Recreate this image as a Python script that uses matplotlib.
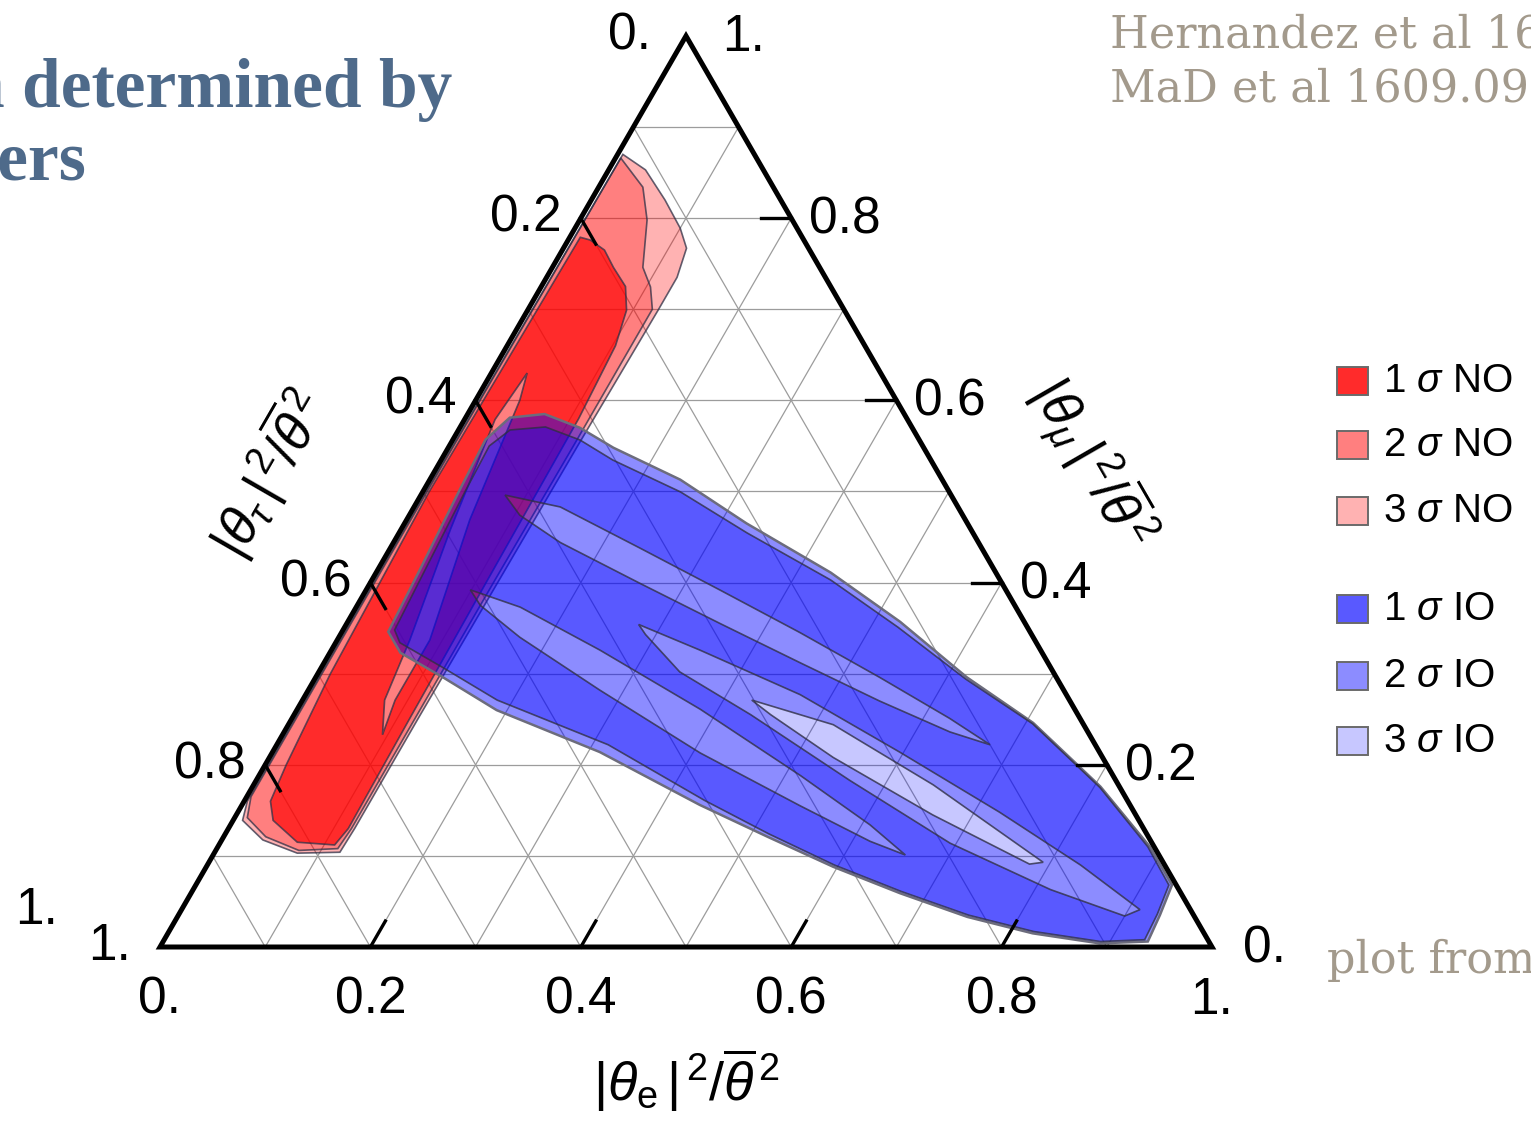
import numpy as np
import matplotlib

matplotlib.use("Agg")
import matplotlib.pyplot as plt
from matplotlib.path import Path
from matplotlib.patches import PathPatch, Polygon, Rectangle

plt.rcParams["font.family"] = ["Liberation Sans", "DejaVu Sans"]
plt.rcParams["mathtext.fontset"] = "custom"
plt.rcParams["mathtext.rm"] = "Liberation Sans"
plt.rcParams["mathtext.it"] = "Liberation Sans:italic"
plt.rcParams["mathtext.bf"] = "Liberation Sans:bold"

W, H = 1531, 1121
SIDE = 1052            # triangle side, px
CORNER = (160, 947)    # px position of the |θτ|² = 1 corner

# ticks / labels, identical on the three sides
tick_values = [0.2, 0.4, 0.6, 0.8]
label_values = [0.0, 0.2, 0.4, 0.6, 0.8, 1.0]
label_texts = ["0.", "0.2", "0.4", "0.6", "0.8", "1."]
grid_values = [0.1, 0.2, 0.3, 0.4, 0.5, 0.6, 0.7, 0.8, 0.9]

# contours, as (|θe|², |θμ|²) fractions of θ̄²  (|θτ|² = 1 - the two)
# normal ordering
no_3sigma = [(0.005, 0.870), (0.035, 0.853), (0.070, 0.820), (0.100, 0.789),
             (0.117, 0.767), (0.124, 0.735), (0.124, 0.700), (0.122, 0.550),
             (0.121, 0.400), (0.120, 0.250), (0.120, 0.130), (0.119, 0.104),
             (0.079, 0.103), (0.039, 0.1175), (0.009, 0.139), (0.003, 0.160),
             (0.003, 0.500)]
no_2sigma = [(0.005, 0.866), (0.042, 0.834), (0.064, 0.798), (0.086, 0.746),
             (0.104, 0.7245), (0.118, 0.700), (0.118, 0.550), (0.117, 0.400),
             (0.117, 0.250), (0.117, 0.130), (0.115, 0.108), (0.079, 0.106),
             (0.040, 0.121), (0.012, 0.142), (0.004, 0.165), (0.004, 0.500)]
no_1sigma = [(0.010, 0.779), (0.021, 0.776), (0.040, 0.765), (0.058, 0.746),
             (0.080, 0.725), (0.094, 0.699), (0.103, 0.660), (0.108, 0.580),
             (0.110, 0.400), (0.112, 0.250), (0.114, 0.130), (0.110, 0.112),
             (0.073, 0.115), (0.038, 0.139), (0.025, 0.160), (0.020, 0.200),
             (0.012, 0.300), (0.006, 0.500)]
no_1sigma_gap = [(0.034, 0.630), (0.042, 0.600), (0.060, 0.469), (0.088, 0.337),
                 (0.088, 0.271), (0.095, 0.233), (0.078, 0.271), (0.069, 0.337),
                 (0.047, 0.458), (0.029, 0.579)]

# inverted ordering
io_outer = [(0.044, 0.346), (0.040, 0.414), (0.034, 0.502), (0.031, 0.557),
            (0.042, 0.581), (0.073, 0.585), (0.114, 0.570), (0.157, 0.548),
            (0.238, 0.513), (0.325, 0.465), (0.432, 0.411), (0.525, 0.357),
            (0.619, 0.296), (0.707, 0.246), (0.806, 0.176), (0.886, 0.110),
            (0.928, 0.068), (0.933, 0.035), (0.936, 0.006), (0.891, 0.004),
            (0.822, 0.015), (0.751, 0.033), (0.674, 0.059), (0.596, 0.088),
            (0.517, 0.121), (0.435, 0.156), (0.311, 0.214), (0.190, 0.260),
            (0.121, 0.296), (0.067, 0.323)]
io_core = [(0.049, 0.348), (0.045, 0.414), (0.040, 0.500), (0.038, 0.550),
           (0.049, 0.5675), (0.081, 0.5708), (0.121, 0.5565), (0.163, 0.5346),
           (0.245, 0.4995), (0.331, 0.4544), (0.436, 0.4029), (0.526, 0.351),
           (0.619, 0.294), (0.707, 0.245), (0.806, 0.175), (0.884, 0.110),
           (0.925, 0.068), (0.930, 0.036), (0.932, 0.008), (0.891, 0.006),
           (0.822, 0.017), (0.751, 0.035), (0.674, 0.061), (0.596, 0.090),
           (0.517, 0.124), (0.437, 0.161), (0.315, 0.222), (0.185, 0.271),
           (0.115, 0.307), (0.061, 0.334)]
io_band_upper = [(0.080, 0.496), (0.139, 0.483), (0.237, 0.438), (0.336, 0.392),
                 (0.436, 0.345), (0.536, 0.296), (0.625, 0.251), (0.678, 0.222),
                 (0.633, 0.236), (0.549, 0.270), (0.4525, 0.312), (0.355, 0.355),
                 (0.257, 0.399), (0.1585, 0.444), (0.105, 0.474)]
io_band_lower = [(0.099, 0.392), (0.156, 0.373), (0.255, 0.326), (0.383, 0.261),
                 (0.515, 0.188), (0.608, 0.134), (0.658, 0.101), (0.617, 0.116),
                 (0.531, 0.155), (0.407, 0.213), (0.277, 0.282), (0.172, 0.340),
                 (0.117, 0.375)]
io_band_centre = [(0.278, 0.354), (0.350, 0.326), (0.470, 0.277), (0.596, 0.214),
                  (0.724, 0.148), (0.830, 0.090), (0.911, 0.041), (0.900, 0.034),
                  (0.815, 0.063), (0.694, 0.114), (0.564, 0.183), (0.434, 0.255),
                  (0.343, 0.302), (0.290, 0.343)]
io_inner = [(0.427, 0.271), (0.518, 0.244), (0.646, 0.178), (0.793, 0.093),
            (0.781, 0.091), (0.662, 0.145), (0.536, 0.208), (0.453, 0.255)]

legend_labels = [r"1 $\sigma$ NO", r"2 $\sigma$ NO", r"3 $\sigma$ NO",
                 r"1 $\sigma$ IO", r"2 $\sigma$ IO", r"3 $\sigma$ IO"]

RED = (1.0, 0.0, 0.0)
BLUE = (0.0, 0.0, 1.0)
no_colors = [RED + (0.83,), RED + (0.50,), RED + (0.30,)]
io_colors = [BLUE + (0.65,), BLUE + (0.45,), BLUE + (0.22,)]
LINE = "#2e2e44"


def cart(points):
    p = np.asarray(points, dtype=float)
    e, m = p[:, 0], p[:, 1]
    return np.column_stack([e + 0.5 * m, m * np.sqrt(3) / 2])


def signed_area(xy):
    x, y = xy[:, 0], xy[:, 1]
    return 0.5 * np.sum(x * np.roll(y, -1) - np.roll(x, -1) * y)


def region(outers, holes=()):
    """Compound path: outer rings counter-clockwise, holes clockwise."""
    verts, codes = [], []
    for ring, is_hole in [(r, False) for r in outers] + [(r, True) for r in holes]:
        xy = cart(ring)
        if (signed_area(xy) > 0) == is_hole:
            xy = xy[::-1]
        verts.extend(xy.tolist() + [xy[0].tolist()])
        codes.extend([Path.MOVETO] + [Path.LINETO] * (len(xy) - 1) + [Path.CLOSEPOLY])
    return Path(verts, codes)


def px(x, y):
    """figure fraction from pixel position"""
    return x / W, 1 - y / H


fig = plt.figure(figsize=(W / 100, H / 100), dpi=100)
ax = fig.add_axes([0, 0, 1, 1])
ax.set_xlim(-CORNER[0] / SIDE, (W - CORNER[0]) / SIDE)
ax.set_ylim(-(H - CORNER[1]) / SIDE, CORNER[1] / SIDE)
ax.axis("off")

# grid
for v in grid_values:
    for seg in ([(v, 0), (v, 1 - v)], [(0, v), (1 - v, v)], [(0, 1 - v), (1 - v, 0)]):
        xy = cart(seg)
        ax.plot(xy[:, 0], xy[:, 1], color="#9c9c9c", lw=0.9, zorder=1)

# normal ordering regions
ax.add_patch(PathPatch(region([no_3sigma], [no_2sigma]), fc=no_colors[2], ec="none", zorder=2))
ax.add_patch(PathPatch(region([no_2sigma, no_1sigma_gap], [no_1sigma]), fc=no_colors[1], ec="none", zorder=2))
ax.add_patch(PathPatch(region([no_1sigma], [no_1sigma_gap]), fc=no_colors[0], ec="none", zorder=2))
for ring in (no_3sigma, no_2sigma, no_1sigma, no_1sigma_gap):
    ax.add_patch(Polygon(cart(ring), closed=True, fill=False, ec=LINE, lw=1.2, alpha=0.75, zorder=2.5))

# inverted ordering regions
bands = [io_band_upper, io_band_lower, io_band_centre]
ax.add_patch(PathPatch(region([io_outer], [io_core]), fc=io_colors[1], ec="none", zorder=3))
ax.add_patch(PathPatch(region([io_core], bands), fc=io_colors[0], ec="none", zorder=3))
ax.add_patch(PathPatch(region(bands, [io_inner]), fc=io_colors[1], ec="none", zorder=3))
ax.add_patch(PathPatch(region([io_inner]), fc=io_colors[2], ec="none", zorder=3))
ax.add_patch(Polygon(cart(io_outer), closed=True, fill=False, ec="#6c6c7c", lw=1.8, zorder=3.5))
for ring in [io_core] + bands + [io_inner]:
    ax.add_patch(Polygon(cart(ring), closed=True, fill=False, ec=LINE, lw=1.2, alpha=0.8, zorder=3.5))

# frame
ax.add_patch(Polygon(cart([(0, 0), (1, 0), (0, 1)]), closed=True, fill=False,
                     ec="black", lw=3.6, joinstyle="miter", zorder=5))

# ticks
L = 30 / SIDE
for v in tick_values:
    b = cart([(v, 0)])[0]
    r = cart([(1 - v, v)])[0]
    l = cart([(0, 1 - v)])[0]
    ax.plot([b[0], b[0] + 0.5 * L], [b[1], b[1] + 0.866 * L], color="black", lw=2.4, zorder=5)
    ax.plot([r[0], r[0] - L], [r[1], r[1]], color="black", lw=2.4, zorder=5)
    ax.plot([l[0], l[0] + 0.5 * L], [l[1], l[1] - 0.866 * L], color="black", lw=2.4, zorder=5)

# tick labels
right_dx = [31, 18, 18, 18, 18, 36]
left_dx = [-56, -55, -55, -55, -55, -50]
for i, (v, t) in enumerate(zip(label_values, label_texts)):
    kw = dict(textcoords="offset pixels", fontsize=37, va="center", zorder=6)
    ax.annotate(t, xy=cart([(v, 0)])[0], xytext=(0, -53), ha="center", **kw)
    ax.annotate(t, xy=cart([(1 - v, v)])[0], xytext=(right_dx[i], -2), ha="left", **kw)
    ax.annotate(t, xy=cart([(0, 1 - v)])[0], xytext=(left_dx[i], 0), ha="center", **kw)
ax.annotate("1.", xy=cart([(0, 0)])[0], xytext=(-123, 36), textcoords="offset pixels",
            fontsize=37, ha="center", va="center")

# axis titles
fig.text(*px(686, 1080), r"$|\theta_{\mathrm{e}}\,|^{\,2}/\overline{\theta}^{\,2}$",
         fontsize=39, ha="center", va="center")
fig.text(*px(268, 473), r"$|\theta_{\tau}\,|^{\,2}/\overline{\theta}^{\,2}$",
         fontsize=39, ha="center", va="center", rotation=60, rotation_mode="anchor")
fig.text(*px(1092, 463), r"$|\theta_{\mu}\,|^{\,2}/\overline{\theta}^{\,2}$",
         fontsize=39, ha="center", va="center", rotation=-60, rotation_mode="anchor")

# legend
rows_y = [381, 445, 511, 609, 676, 741]
faces = no_colors + io_colors
for y, lab, fc in zip(rows_y, legend_labels, faces):
    fig.patches.append(Rectangle(px(1337, y + 14), 31 / W, 28 / H, transform=fig.transFigure,
                                 fc=fc, ec="#6a6a6a", lw=1.4))
    fig.text(*px(1383, y), lab, fontsize=29, ha="left", va="center")

# slide text around the plot
head = dict(family="Liberation Serif", weight="bold", color="#4e6a8a", fontsize=50)
fig.text(*px(452, 107), "n determined by", ha="right", va="baseline", **head)
fig.text(*px(87, 180), "ters", ha="right", va="baseline", **head)
note = dict(family="DejaVu Serif", color="#a39a8c", fontsize=32)
fig.text(*px(1110, 47), "Hernandez et al 16", ha="left", va="baseline", **note)
fig.text(*px(1110, 101), "MaD et al 1609.090", ha="left", va="baseline", **note)
fig.text(*px(1327, 973), "plot from", ha="left", va="baseline", **note)

fig.savefig("out.png", dpi=100)
